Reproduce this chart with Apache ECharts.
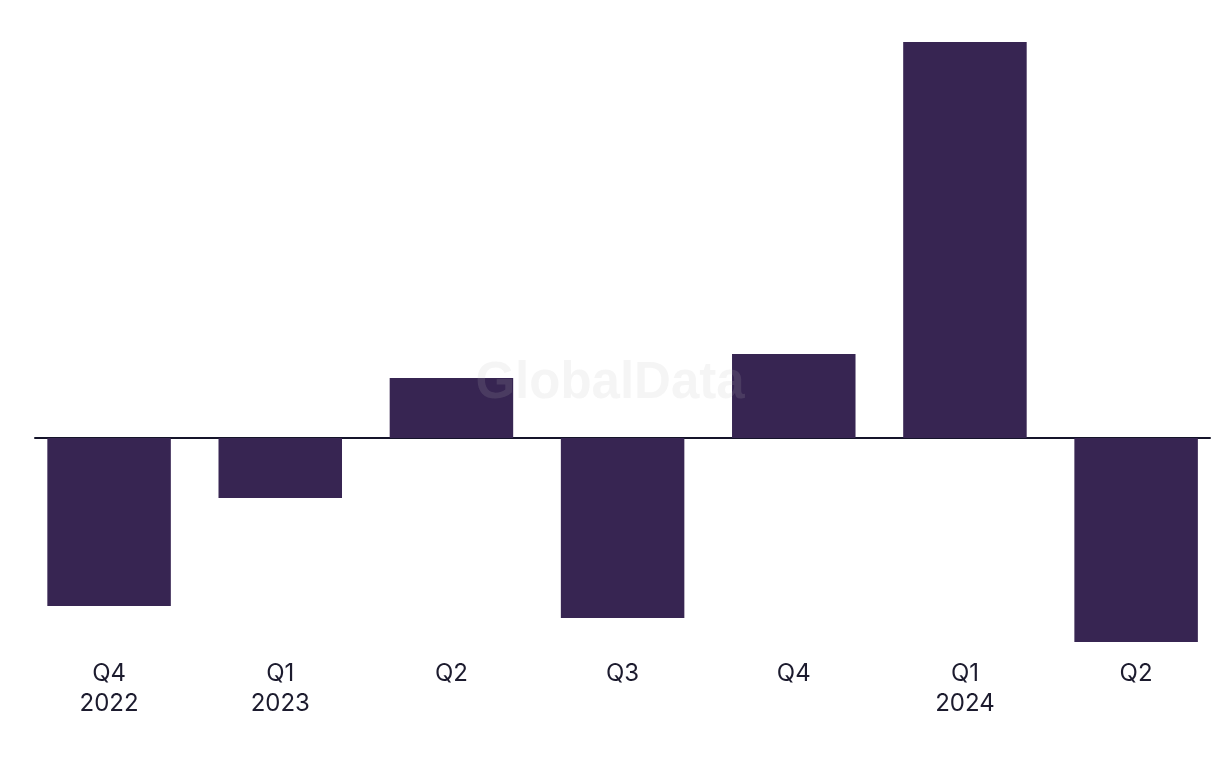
<!DOCTYPE html>
<html>
<head>
<meta charset="utf-8">
<script src="https://cdn.jsdelivr.net/npm/echarts@6/dist/echarts.min.js"></script>
<style>
html,body{margin:0;padding:0;background:#fff;}
#chart{width:1220px;height:768px;}
</style>
</head>
<body>
<div id="chart"></div>
<script>
const categories = ['Q4\n2022', 'Q1\n2023', 'Q2', 'Q3', 'Q4', 'Q1\n2024', 'Q2'];
const values = [-16.8, -6.0, 6.0, -18.0, 8.4, 39.6, -20.4];
const yMin = -22, yMax = 40;

const chart = echarts.init(document.getElementById('chart'), null, {renderer: 'canvas'});
chart.setOption({
  animation: false,
  backgroundColor: '#ffffff',
  grid: [
    {left: 23.5, top: 38, width: 1198.2, height: 620, outerBoundsMode: 'none', containLabel: false},
    {left: 35, top: 38, width: 1175, height: 620, outerBoundsMode: 'none', containLabel: false}
  ],
  xAxis: [
    {
      type: 'category', gridIndex: 0, data: categories,
      axisLine: {show: false, onZero: false},
      axisTick: {show: false},
      axisLabel: {
        margin: 1, color: '#1c1b2e', fontSize: 24, lineHeight: 30,
        fontFamily: 'Inter, "Liberation Sans", sans-serif', interval: 0
      },
      splitLine: {show: false}
    },
    {
      type: 'value', gridIndex: 1, min: 0, max: 1,
      axisLine: {show: true, onZero: true, lineStyle: {color: '#15142a', width: 2}},
      axisTick: {show: false}, axisLabel: {show: false}, splitLine: {show: false}
    }
  ],
  yAxis: [
    {type: 'value', gridIndex: 0, min: yMin, max: yMax, show: false, splitLine: {show: false}},
    {type: 'value', gridIndex: 1, min: yMin, max: yMax, show: false, splitLine: {show: false}}
  ],
  graphic: [{
    type: 'text', left: 'center', top: 358, z: 100,
    style: {
      text: 'GlobalData', fontSize: 51, fontWeight: 'bold',
      fontFamily: '"Liberation Sans", Arial, sans-serif',
      fill: 'rgba(186,186,190,0.15)'
    }
  }],
  series: [{
    type: 'bar', xAxisIndex: 0, yAxisIndex: 0, data: values,
    barWidth: 123.5,
    itemStyle: {color: '#372552'},
    z: 1
  }]
});
</script>
</body>
</html>
